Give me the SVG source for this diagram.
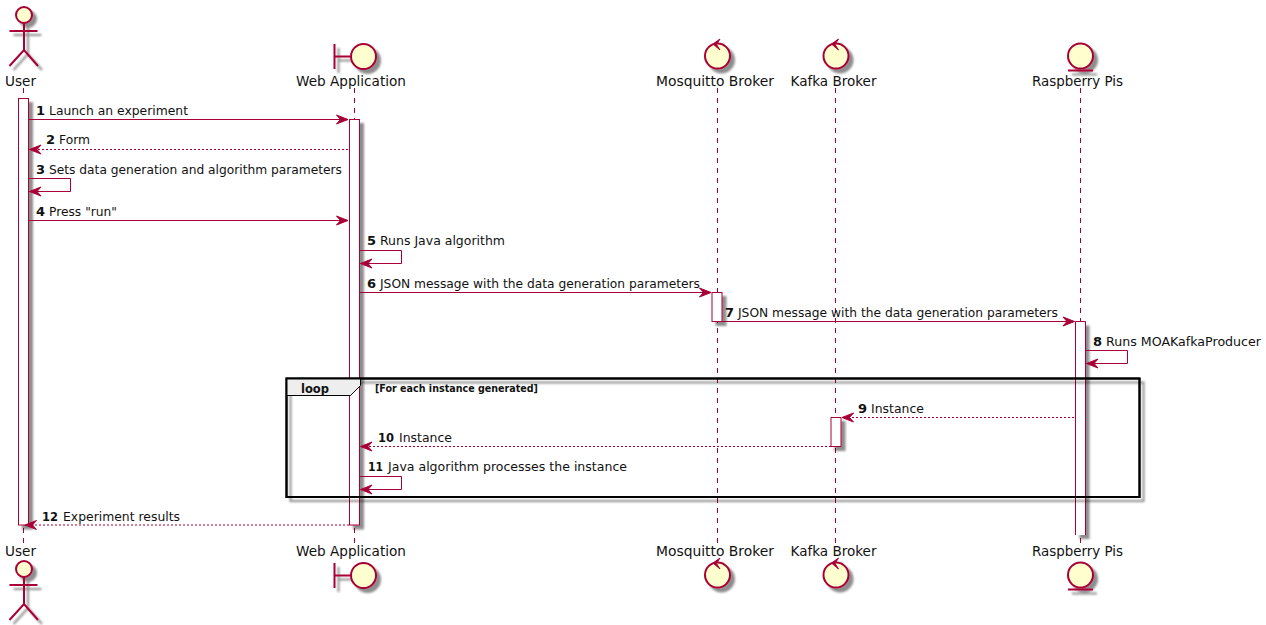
<svg xmlns="http://www.w3.org/2000/svg" width="1266" height="625" viewBox="0 0 1266 625">
<style>
text{font-family:"DejaVu Sans","Liberation Sans",sans-serif;fill:#111;}
.name{font-size:14px;}
.msg{font-size:13px;}
.num{font-size:13px;font-weight:bold;}
.icon{fill:#FEFECE;stroke:#A80036;stroke-width:2;}
.stick{fill:none;stroke:#A80036;stroke-width:2;}
.life{fill:none;stroke:#A80036;stroke-width:1;stroke-dasharray:5,5;}
.bar{fill:#fff;stroke:#A80036;stroke-width:1;}
.sync{fill:none;stroke:#A80036;stroke-width:1;}
.reply{fill:none;stroke:#A80036;stroke-width:1;stroke-dasharray:2,2;}
.head{fill:#A80036;stroke:#A80036;stroke-width:1;}
</style>
<defs>
<filter id="sh" filterUnits="userSpaceOnUse" x="0" y="0" width="1266" height="625">
<feGaussianBlur in="SourceAlpha" stdDeviation="1" result="b"/>
<feOffset in="b" dx="4" dy="4" result="o"/>
<feComponentTransfer in="o" result="s"><feFuncA type="linear" slope="0.45"/></feComponentTransfer>
<feMerge><feMergeNode in="s"/><feMergeNode in="SourceGraphic"/></feMerge>
</filter>
<marker id="arrow" markerUnits="userSpaceOnUse" markerWidth="14" markerHeight="12" refX="11.5" refY="5.500" orient="auto-start-reverse" overflow="visible">
<path d="M0,1 L11.5,5.500 L0,10 L4,5.500 Z" class="head"/>
</marker>
</defs>
<rect width="1266" height="625" fill="#fff"/>

<g id="lifelines">
<path class="life" d="M23.500,88V543"/>
<path class="life" d="M354.500,88V543"/>
<path class="life" d="M717.500,88V543"/>
<path class="life" d="M835.500,88V543"/>
<path class="life" d="M1080.500,88V543"/>
</g>

<g id="node-user">
<g filter="url(#sh)">
<circle class="icon" cx="24" cy="15" r="8"/>
<path class="stick" d="M24,23V50M9.500,31H37.500M9.500,66L24,50L38,66"/>
</g>
<text class="name" x="5" y="86" textLength="31" lengthAdjust="spacingAndGlyphs">User</text>
<rect class="bar" x="18.500" y="98.500" width="10" height="426.500" filter="url(#sh)"/>
<text class="name" x="5" y="555.500" textLength="31" lengthAdjust="spacingAndGlyphs">User</text>
<g filter="url(#sh)">
<circle class="icon" cx="24" cy="569" r="8"/>
<path class="stick" d="M24,577V604M9.500,585H37.500M9.500,620L24,604L38,620"/>
</g>
</g>

<g id="node-web">
<g filter="url(#sh)">
<path class="stick" d="M334.500,44V69M334.500,56.500H351"/>
<circle class="icon" cx="363.500" cy="56.500" r="12.500"/>
</g>
<text class="name" x="296" y="86" textLength="110" lengthAdjust="spacingAndGlyphs">Web Application</text>
<rect class="bar" x="349.500" y="119.500" width="10" height="405.500" filter="url(#sh)"/>
<text class="name" x="296" y="555.500" textLength="110" lengthAdjust="spacingAndGlyphs">Web Application</text>
<g filter="url(#sh)">
<path class="stick" d="M334.500,563V588M334.500,575.500H351"/>
<circle class="icon" cx="363.500" cy="575.500" r="12.500"/>
</g>
</g>

<g id="node-mosquitto">
<g filter="url(#sh)">
<circle class="icon" cx="717.500" cy="56" r="12.500"/>
<path class="head" d="M713,44L720,39L716.500,44.500L720,50Z"/>
</g>
<text class="name" x="656" y="86" textLength="118" lengthAdjust="spacingAndGlyphs">Mosquitto Broker</text>
<rect class="bar" x="712" y="292.500" width="10" height="29" filter="url(#sh)"/>
<text class="name" x="656" y="555.500" textLength="118" lengthAdjust="spacingAndGlyphs">Mosquitto Broker</text>
<g filter="url(#sh)">
<circle class="icon" cx="717.500" cy="575" r="12.500"/>
<path class="head" d="M713,563L720,558L716.500,563.500L720,569Z"/>
</g>
</g>

<g id="node-kafka">
<g filter="url(#sh)">
<circle class="icon" cx="836" cy="56" r="12.500"/>
<path class="head" d="M831.500,44L838.500,39L835,44.500L838.500,50Z"/>
</g>
<text class="name" x="790.500" y="86" textLength="86" lengthAdjust="spacingAndGlyphs">Kafka Broker</text>
<rect class="bar" x="831" y="417.500" width="10" height="29" filter="url(#sh)"/>
<text class="name" x="790.500" y="555.500" textLength="86" lengthAdjust="spacingAndGlyphs">Kafka Broker</text>
<g filter="url(#sh)">
<circle class="icon" cx="836" cy="575" r="12.500"/>
<path class="head" d="M831.500,563L838.500,558L835,563.500L838.500,569Z"/>
</g>
</g>

<g id="node-raspberry">
<g filter="url(#sh)">
<circle class="icon" cx="1080.500" cy="56" r="12.500"/>
<path class="stick" d="M1068,70.500H1093"/>
</g>
<text class="name" x="1032" y="86" textLength="91" lengthAdjust="spacingAndGlyphs">Raspberry Pis</text>
<path d="M1075.500,321.500H1085.500V535H1075.500Z" fill="#fff" filter="url(#sh)"/>
<path class="sync" d="M1075.500,535V321.500H1085.500V535"/>
<text class="name" x="1032" y="555.500" textLength="91" lengthAdjust="spacingAndGlyphs">Raspberry Pis</text>
<g filter="url(#sh)">
<circle class="icon" cx="1080.500" cy="575" r="12.500"/>
<path class="stick" d="M1068,589.500H1093"/>
</g>
</g>

<g id="connectors">
<path class="sync" marker-end="url(#arrow)" d="M28.500,119.500H348"/>
<path class="reply" marker-end="url(#arrow)" d="M348,149.500H29.500"/>
<path class="sync" marker-end="url(#arrow)" d="M28.500,178.500H70.500V191.500H29.500"/>
<path class="sync" marker-end="url(#arrow)" d="M28.500,220.500H348"/>
<path class="sync" marker-end="url(#arrow)" d="M359.500,250.500H401.500V263.500H360.500"/>
<path class="sync" marker-end="url(#arrow)" d="M359.500,292.500H711"/>
<path class="sync" marker-end="url(#arrow)" d="M722,321.500H1074.500"/>
<path class="sync" marker-end="url(#arrow)" d="M1085.500,350.500H1127.500V363.500H1086.500"/>
<path class="reply" marker-end="url(#arrow)" d="M1074,417.500H842"/>
<path class="reply" marker-end="url(#arrow)" d="M831,446.500H360.500"/>
<path class="sync" marker-end="url(#arrow)" d="M359.500,476.500H401.500V489.500H360.500"/>
<path class="reply" marker-end="url(#arrow)" d="M349,525H25"/>
</g>

<g id="messages">
<text class="num" x="36" y="115">1</text><text class="msg" x="49" y="115" textLength="139" lengthAdjust="spacingAndGlyphs">Launch an experiment</text>
<text class="num" x="46" y="144">2</text><text class="msg" x="59" y="144" textLength="31" lengthAdjust="spacingAndGlyphs">Form</text>
<text class="num" x="36" y="174">3</text><text class="msg" x="49" y="174" textLength="293" lengthAdjust="spacingAndGlyphs">Sets data generation and algorithm parameters</text>
<text class="num" x="36" y="216">4</text><text class="msg" x="49" y="216" textLength="68" lengthAdjust="spacingAndGlyphs">Press "run"</text>
<text class="num" x="367" y="245">5</text><text class="msg" x="380" y="245" textLength="125" lengthAdjust="spacingAndGlyphs">Runs Java algorithm</text>
<text class="num" x="367" y="288">6</text><text class="msg" x="380" y="288" textLength="320" lengthAdjust="spacingAndGlyphs">JSON message with the data generation parameters</text>
<text class="num" x="725" y="317">7</text><text class="msg" x="738" y="317" textLength="320" lengthAdjust="spacingAndGlyphs">JSON message with the data generation parameters</text>
<text class="num" x="1093" y="346">8</text><text class="msg" x="1106" y="346" textLength="155" lengthAdjust="spacingAndGlyphs">Runs MOAKafkaProducer</text>
<text class="num" x="858" y="413">9</text><text class="msg" x="871" y="413" textLength="53" lengthAdjust="spacingAndGlyphs">Instance</text>
<text class="num" x="378" y="442" textLength="16" lengthAdjust="spacingAndGlyphs">10</text><text class="msg" x="399" y="442" textLength="53" lengthAdjust="spacingAndGlyphs">Instance</text>
<text class="num" x="368" y="471" textLength="15" lengthAdjust="spacingAndGlyphs">11</text><text class="msg" x="388" y="471" textLength="239" lengthAdjust="spacingAndGlyphs">Java algorithm processes the instance</text>
<text class="num" x="42" y="521" textLength="16" lengthAdjust="spacingAndGlyphs">12</text><text class="msg" x="63" y="521" textLength="117" lengthAdjust="spacingAndGlyphs">Experiment results</text>
</g>

<g id="loop">
<rect x="286.500" y="378.500" width="853" height="118.500" fill="none" stroke="#000" stroke-width="2" filter="url(#sh)"/>
<path d="M286.500,378.500H360.500V385.500L350.500,395.500H286.500Z" fill="#EEE" stroke="#000" stroke-width="1"/>
<rect x="286.500" y="378.500" width="853" height="118.500" fill="none" stroke="#000" stroke-width="2"/>
<text x="301" y="393" font-size="13" font-weight="bold" textLength="28" lengthAdjust="spacingAndGlyphs">loop</text>
<text x="375" y="392" font-size="11" font-weight="bold" textLength="163" lengthAdjust="spacingAndGlyphs">[For each instance generated]</text>
</g>
</svg>
